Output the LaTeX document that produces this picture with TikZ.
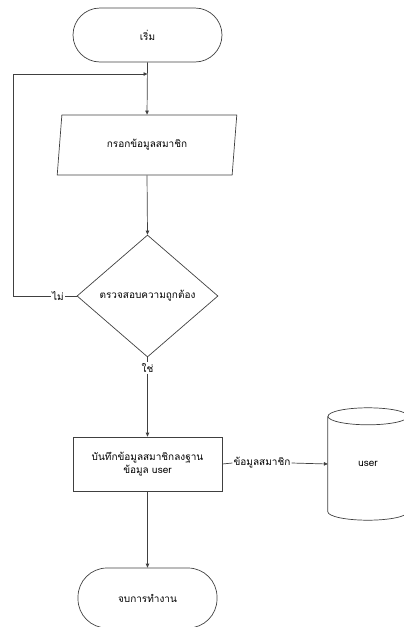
\documentclass[tikz,border=0pt]{standalone}
\usepackage{fontspec}
\newfontfamily\thaifont[Script=Thai]{Loma}
\usetikzlibrary{shapes.geometric,arrows.meta}
\begin{document}
\begin{tikzpicture}[x=1pt,y=-1pt,
  font=\thaifont\fontsize{10}{12.5}\selectfont,
  line/.style={draw=black!75,line width=0.7pt},
  flow/.style={line,-{Triangle[length=4pt,width=3.5pt]}},
  terminal/.style={line,rounded corners=27pt,minimum width=149pt,minimum height=54pt,inner sep=0pt},
  procbox/.style={line,minimum width=149pt,minimum height=54pt,align=center,inner sep=0pt},
  iobox/.style={line,trapezium,trapezium left angle=78.7,trapezium right angle=101.3,
    trapezium stretches=true,minimum width=180pt,minimum height=60pt,inner sep=0pt},
  decision/.style={line,diamond,minimum width=141pt,minimum height=122pt,inner sep=0pt},
  lbl/.style={fill=white,inner sep=1pt}]
\useasboundingbox (0,0) rectangle (404,627);

% main column
\node[terminal] (start) at (147.5,35) {เริ่ม};
\node[iobox] (input) at (147,145) {กรอกข้อมูลสมาชิก};
\node[decision] (check) at (147.5,296) {ตรวจสอบความถูกต้อง};
\node[procbox] (save) at (147.5,464) {บันทึกข้อมูลสมาชิกลงฐาน\\ข้อมูล user};
\node[terminal,minimum width=139pt,minimum height=60pt,rounded corners=29pt] (stop) at (147.5,598) {จบการทำงาน};

% database drum
\node[minimum width=80pt,minimum height=112pt,inner sep=0pt] (db) at (368,464) {user};
\draw[line] ([yshift=-8.5pt]db.north) ellipse [x radius=40pt,y radius=8.5pt];
\draw[line]
  ([yshift=-8.5pt]db.north west) -- ([yshift=8.5pt]db.south west)
  arc[start angle=180,end angle=360,x radius=40pt,y radius=8.5pt]
  -- ([yshift=-8.5pt]db.north east);

% branch labels
\node[lbl] (no) at (58,296) {ไม่};
\node[lbl] (yes) at (147.5,368) {ใช่};
\node[lbl] (data) at (262,463) {ข้อมูลสมาชิก};

\coordinate (back) at (13,74);
\coordinate (join) at (147.5,74);

% connectors
\draw[flow] (start.south) -- (input.north);
\draw[flow] (input.south) -- (check.north);
\draw[line] (check.west) -- (no.east);
\draw[flow] (no.west) -| (back) -- (join);
\draw[line] (check.south) -- (yes.north);
\draw[flow] (yes.south) -- (save.north);
\draw[line] (save.east) -- (data.west);
\draw[flow] (data.east) -- (db.west);
\draw[flow] (save.south) -- (stop.north);
\end{tikzpicture}
\end{document}
